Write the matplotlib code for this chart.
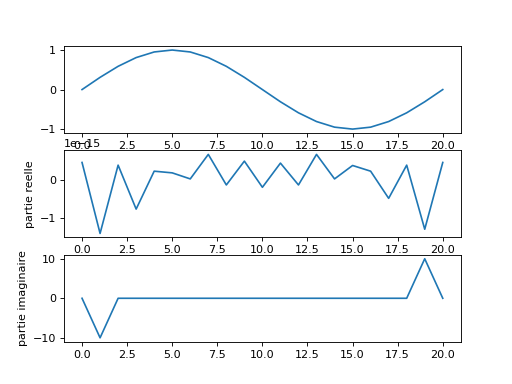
import matplotlib
matplotlib.use("Agg")
import matplotlib.pyplot as plt

n = list(range(21))
signal = [0.0, 0.309, 0.588, 0.809, 0.951, 1.0, 0.951, 0.809, 0.588, 0.309, 0.0,
          -0.309, -0.588, -0.809, -0.951, -1.0, -0.951, -0.809, -0.588, -0.309, 0.0]
reelle = [0.456, -1.40, 0.386, -0.763, 0.228, 0.184, 0.026, 0.667, -0.132, 0.491, -0.193,
          0.439, -0.132, 0.667, 0.026, 0.377, 0.228, -0.482, 0.386, -1.29, 0.456]
reelle = [v * 1e-15 for v in reelle]
imaginaire = [0, -10, 0, 0, 0, 0, 0, 0, 0, 0, 0, 0, 0, 0, 0, 0, 0, 0, 0, 10, 0]

fig = plt.figure(figsize=(6.4, 4.8), dpi=80)

plt.subplot(311)
plt.plot(n, signal)

plt.subplot(312)
plt.plot(n, reelle)
plt.ylabel("partie reelle")

plt.subplot(313)
plt.plot(n, imaginaire)
plt.ylabel("partie imaginaire")

plt.savefig("out.png")
